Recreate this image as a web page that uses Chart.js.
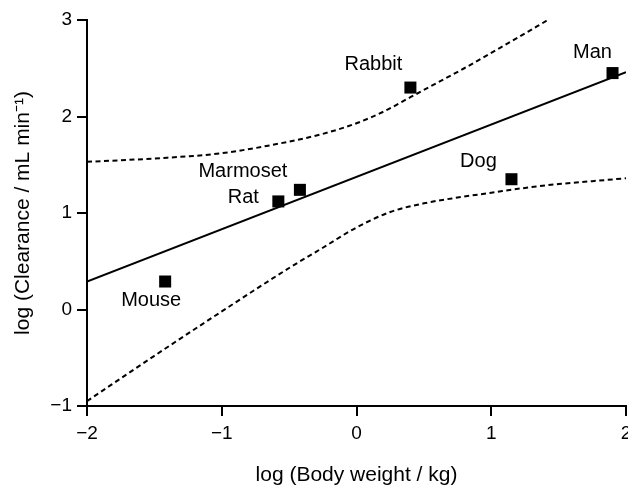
<!DOCTYPE html>
<html>
<head>
<meta charset="utf-8">
<script src="https://cdn.jsdelivr.net/npm/chart.js@4.4.1/dist/chart.umd.min.js"></script>
<style>
  body { margin: 0; background: #fff; }
  canvas { display: block; }
</style>
</head>
<body>
<canvas id="allometry" width="628" height="488"></canvas>
<script>
// species points: log body weight (kg) vs log clearance (mL/min)
const species = ["Mouse", "Rat", "Marmoset", "Rabbit", "Dog", "Man"];
const logWeight = [-1.42, -0.58, -0.42, 0.40, 1.15, 1.90];
const logClearance = [0.29, 1.12, 1.24, 2.30, 1.35, 2.45];

// fitted line and the dotted band
const fitX = [-2, 2];
const fitY = [0.29, 2.46];
const upperX = [-2, -1.5, -1.0, -0.5, -0.25, 0, 0.2, 0.4, 0.6, 0.8, 1.0, 1.2, 1.42];
const upperY = [1.53, 1.565, 1.62, 1.74, 1.82, 1.93, 2.05, 2.20, 2.35, 2.50, 2.66, 2.82, 3.0];
const lowerX = [-2, -1.5, -1.0, -0.5, -0.25, 0, 0.25, 0.5, 0.75, 1.0, 1.25, 1.5, 1.75, 2.0];
const lowerY = [-0.95, -0.48, -0.02, 0.43, 0.64, 0.85, 1.01, 1.10, 1.16, 1.21, 1.26, 1.30, 1.33, 1.36];

const xTicks = [-2, -1, 0, 1, 2];
const yTicks = [-1, 0, 1, 2, 3];

// label placement relative to each marker (px)
const labelOffsets = [[-14, 19], [-35, -4], [-57, -18], [-37, -23], [-33, -18], [-20, -21]];

const FONT = '"Liberation Sans", Arial, Helvetica, sans-serif';
const fmt = v => (v < 0 ? "\u2212" + Math.abs(v) : String(v));
const pts = (xs, ys) => xs.map((x, i) => ({ x: x, y: ys[i] }));

const overlayText = {
  id: "overlayText",
  afterDraw(chart) {
    const ctx = chart.ctx;
    const xs = chart.scales.x, ys = chart.scales.y;
    ctx.save();
    ctx.fillStyle = "#000";
    ctx.font = "19px " + FONT;
    ctx.textAlign = "center";
    ctx.textBaseline = "middle";
    // x tick labels (drawn here so the last one can run off the edge like the original)
    xTicks.forEach(v => {
      ctx.fillText(fmt(v), xs.getPixelForValue(v), chart.chartArea.bottom + 28);
    });
    // species names
    ctx.font = "20px " + FONT;
    species.forEach((name, i) => {
      const px = xs.getPixelForValue(logWeight[i]);
      const py = ys.getPixelForValue(logClearance[i]);
      ctx.fillText(name, px + labelOffsets[i][0], py + labelOffsets[i][1]);
    });
    ctx.restore();
  }
};

const bandStyle = {
  showLine: true,
  borderColor: "#000",
  borderWidth: 2,
  borderDash: [5, 3.5],
  cubicInterpolationMode: "monotone",
  pointRadius: 0,
};

new Chart(document.getElementById("allometry"), {
  type: "scatter",
  data: {
    datasets: [
      Object.assign({ label: "upper", data: pts(upperX, upperY) }, bandStyle),
      Object.assign({ label: "lower", data: pts(lowerX, lowerY) }, bandStyle),
      {
        label: "fit",
        data: pts(fitX, fitY),
        showLine: true,
        borderColor: "#000",
        borderWidth: 2,
        pointRadius: 0,
      },
      {
        label: "species",
        data: pts(logWeight, logClearance),
        pointStyle: "rect",
        pointRadius: 8.5,
        pointBackgroundColor: "#000",
        pointBorderWidth: 0,
        showLine: false,
      },
    ],
  },
  options: {
    responsive: false,
    animation: false,
    events: [],
    layout: { autoPadding: false, padding: { top: 20, right: 2, left: 0, bottom: 0 } },
    plugins: {
      legend: { display: false },
      tooltip: { enabled: false },
    },
    scales: {
      x: {
        type: "linear",
        min: -2,
        max: 2,
        afterBuildTicks: s => { s.ticks = xTicks.map(v => ({ value: v })); },
        afterFit: s => { s.height = 82; },
        ticks: { display: false },
        grid: { drawOnChartArea: false, drawTicks: true, tickLength: 10, color: "#000", lineWidth: 2 },
        border: { display: true, color: "#000", width: 2 },
        title: {
          display: true,
          text: "log (Body weight / kg)",
          color: "#000",
          font: { family: FONT, size: 21 },
          padding: { top: 0, bottom: 0 },
        },
      },
      y: {
        type: "linear",
        min: -1,
        max: 3,
        afterBuildTicks: s => { s.ticks = yTicks.map(v => ({ value: v })); },
        afterFit: s => { s.width = 87; },
        ticks: {
          color: "#000",
          padding: 5,
          font: { family: FONT, size: 19 },
          callback: v => fmt(v),
        },
        grid: { drawOnChartArea: false, drawTicks: true, tickLength: 10, color: "#000", lineWidth: 2 },
        border: { display: true, color: "#000", width: 2 },
        title: {
          display: true,
          text: "log (Clearance / mL min\u207B\u00B9)",
          color: "#000",
          font: { family: FONT, size: 21 },
          padding: { top: 11, bottom: 0 },
        },
      },
    },
  },
  plugins: [overlayText],
});
</script>
</body>
</html>
